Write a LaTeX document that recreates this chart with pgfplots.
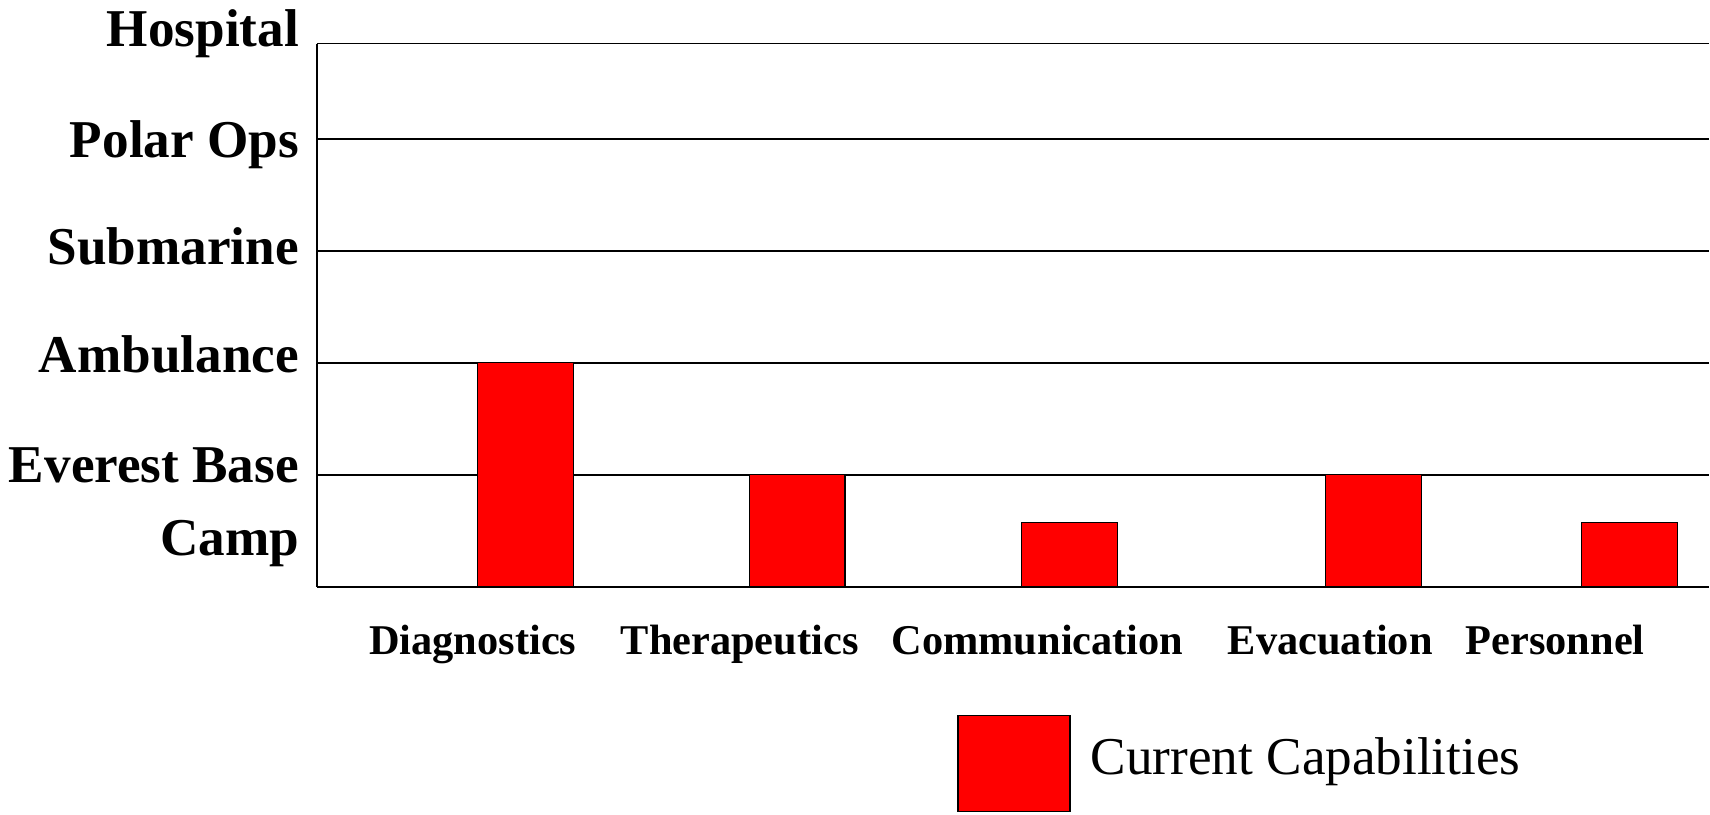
\documentclass[border=0pt]{standalone}
\usepackage{fontspec}
\setmainfont{Liberation Serif}
\usepackage{pgfplots}
\pgfplotsset{compat=1.18}
\begin{document}
\begin{tikzpicture}
\begin{axis}[
  width=696.5pt, height=271.7pt, scale only axis,
  xmin=317, xmax=1710, ymin=0, ymax=4.85,
  clip=false,
  axis x line*=bottom, axis y line*=left,
  axis line style={-, line width=0.9pt, black},
  xtick={473,740,1038,1331,1556},
  xticklabels={Diagnostics,Therapeutics,Communication,Evacuation,Personnel},
  ytick={0.275,0.93,1.91,2.875,3.83,4.82},
  yticklabels={Camp,Everest Base,Ambulance,Submarine,Polar Ops,Hospital},
  major tick length=0pt,
  xticklabel style={font=\bfseries\fontsize{21.2}{24}\selectfont, anchor=base, yshift=-34pt},
  yticklabel style={font=\bfseries\fontsize{26.6}{30}\selectfont, anchor=base east, inner xsep=0pt, xshift=-8.8pt},
  extra y ticks={1,2,3,4,4.85},
  extra y tick labels={},
  extra y tick style={grid=major, major grid style={black, line width=0.9pt}},
  legend style={at={(0.4599,-0.2356)}, anchor=north west, draw=none, fill=none, inner sep=0pt, outer sep=0pt,
    nodes={inner sep=0pt, font=\fontsize{26.6}{30}\selectfont},
    /tikz/every odd column/.append style={column sep=10pt}},
]
\addplot[ybar, bar width=96, bar shift=0pt, fill=red, draw=black, line width=0.6pt,
  legend image code/.code={\draw[fill=red, draw=black, line width=0.9pt] (0pt,-27pt) rectangle (56pt,21pt);}]
  coordinates {(525.7,2) (797.5,1) (1070,0.57) (1374,1) (1630,0.57)};
\addlegendentry{Current Capabilities}
\path (rel axis cs:-0.2276,-0.4196) rectangle (rel axis cs:1,1.0802);
\end{axis}
\end{tikzpicture}
\end{document}
